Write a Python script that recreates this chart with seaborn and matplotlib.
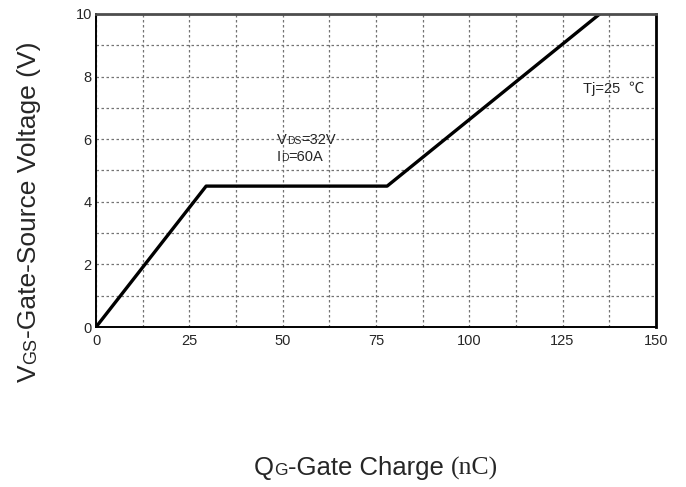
import numpy as np
import pandas as pd
import seaborn as sns
import matplotlib.pyplot as plt
from matplotlib.transforms import IdentityTransform

# Gate charge curve
qg = [0, 29.5, 78, 135]
vgs = [0, 4.5, 4.5, 10]
x_ticks = [0, 25, 50, 75, 100, 125, 150]
y_ticks = [0, 2, 4, 6, 8, 10]

df = pd.DataFrame({'qg': qg, 'vgs': vgs})

sns.set_style('white')
plt.rcParams['font.family'] = ['Liberation Sans', 'DejaVu Sans']

fig = plt.figure(figsize=(6.86, 4.87), dpi=100)
ax = fig.add_axes([0.140, 0.3285, 0.816, 0.643])

sns.lineplot(data=df, x='qg', y='vgs', color='black', linewidth=2.4, ax=ax)

ax.set_xlim(0, 150)
ax.set_ylim(0, 10)
ax.set_xticks(np.arange(0, 150.1, 12.5), minor=True)
ax.set_yticks(np.arange(0, 10.1, 1), minor=True)
ax.set_xticks(x_ticks)
ax.set_yticks(y_ticks)
ax.set_xticklabels([str(t) for t in x_ticks], fontsize=10.5)
ax.set_yticklabels([str(t) for t in y_ticks], fontsize=10.5)
ax.tick_params(which='both', length=0)
ax.tick_params(axis='x', pad=5)
ax.tick_params(axis='y', pad=3)
ax.grid(True, which='both', linestyle=(0, (2, 2)), color='0.45', linewidth=0.9)
ax.set_xlabel('')
ax.set_ylabel('')

for side in ['left', 'bottom']:
    ax.spines[side].set_color('black')
    ax.spines[side].set_linewidth(1.4)
ax.spines['right'].set_color('black')
ax.spines['right'].set_linewidth(2.0)
ax.spines['top'].set_color('0.3')
ax.spines['top'].set_linewidth(2.0)

renderer = fig.canvas.get_renderer()


def rich_text(pieces, x, y, vertical=False, center=True):
    # pieces: (text, size, family); x, y in pixels from the bottom left
    texts = []
    for s, size, fam in pieces:
        t = fig.text(0, 0, s, fontsize=size, family=fam, transform=IdentityTransform(),
                     ha='left', va='baseline', rotation=90 if vertical else 0,
                     rotation_mode='anchor')
        texts.append(t)
    lengths = []
    for t in texts:
        bb = t.get_window_extent(renderer)
        lengths.append(bb.height if vertical else bb.width)
    pos = -sum(lengths) / 2 if center else 0
    for t, l in zip(texts, lengths):
        if vertical:
            t.set_position((x, y + pos))
        else:
            t.set_position((x + pos, y))
        pos += l


H = 487
sans = ['Liberation Sans', 'DejaVu Sans']
serif = ['Liberation Serif', 'DejaVu Serif']

rich_text([('V', 19, sans), ('GS', 13, sans), ('-Gate-Source Voltage (V)', 19, sans)],
          36, H - 212, vertical=True)
rich_text([('Q', 18.5, sans), ('G', 12.5, sans), ('-Gate Charge ', 18.5, sans), ('(nC)', 18.5, serif)],
          376, H - 475)

rich_text([('V', 10.5, sans), ('DS', 7.5, sans), ('=32V', 10.5, sans)], 277, H - 144, center=False)
rich_text([('I', 10.5, sans), ('D', 7.5, sans), ('=60A', 10.5, sans)], 277, H - 161, center=False)
rich_text([('Tj=25  ', 10.5, sans), ('℃', 11, ['Noto Sans CJK SC', 'DejaVu Sans'])], 583, H - 93, center=False)

fig.savefig('out.png', dpi=100)
